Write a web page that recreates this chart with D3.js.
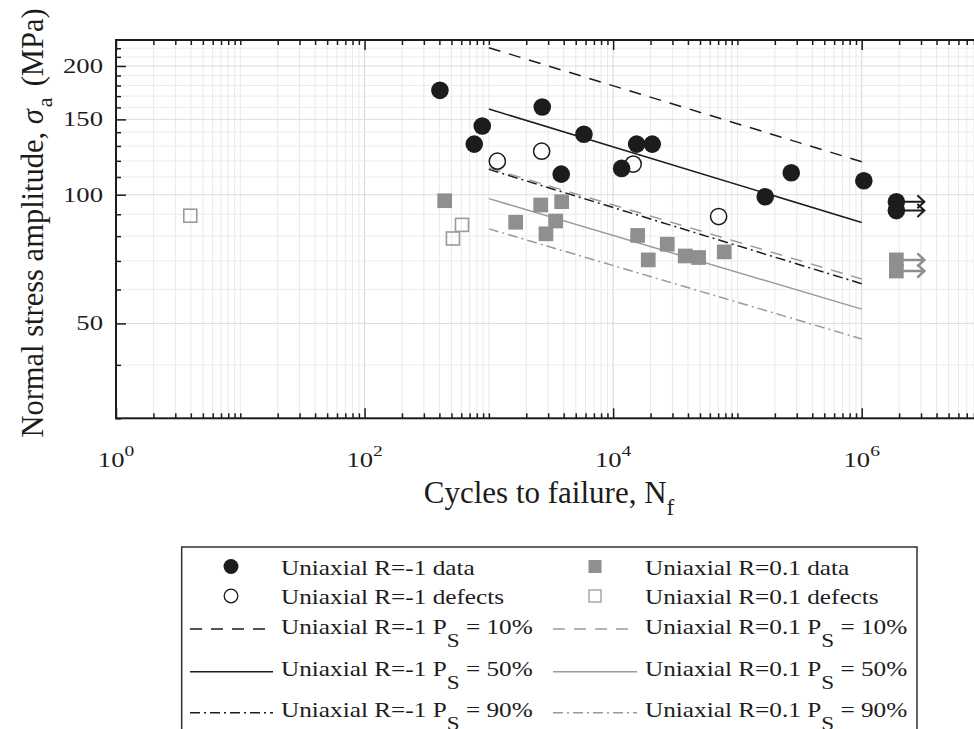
<!DOCTYPE html>
<html lang="en">
<head>
<meta charset="UTF-8">
<title>Uniaxial S-N data</title>
<script src="https://d3js.org/d3.v7.min.js"></script>
<style>
    body { margin: 0; background: #fff; }
    svg { display: block; font-family: "Liberation Serif", "Times New Roman", serif; }
</style>
</head>
<body>
<svg width="974" height="729"></svg>
<script>
// ---- data ----
// R = -1 failures
const r1DataN = [404, 885, 763, 2690, 3820, 5820, 11700, 15450, 20640, 167300, 271000, 1040000];
const r1DataS = [175.4, 144.8, 131.3, 160.4, 111.7, 138.5, 115.2, 131.3, 131.3, 98.9, 112.5, 107.8];
// R = -1 run-outs (arrows)
const r1RunoutN = [1900000, 1900000];
const r1RunoutS = [96.3, 91.8];
// R = -1 failures from defects
const r1DefectN = [1170, 2660, 14500, 70600];
const r1DefectS = [119.8, 126.4, 117.9, 88.9];

// R = 0.1 failures
const r01DataN = [441, 1643, 2611, 2880, 3445, 3852, 15740, 19160, 27250, 38020, 48730, 78300];
const r01DataS = [96.8, 86.2, 94.6, 81.0, 86.8, 96.3, 80.3, 70.4, 76.6, 71.9, 71.3, 73.5];
const r01RunoutN = [1900000, 1900000];
const r01RunoutS = [70.4, 66.3];
const r01DefectN = [3.96, 514, 608];
const r01DefectS = [89.3, 79.0, 85.0];

// fitted curves, ends at N = 1e3 and 1e6
const curveN = [1e3, 1e6];
const r1P10 = [220.6, 119.4];
const r1P50 = [158.6, 86.1];
const r1P90 = [114.6, 61.9];
const r01P10 = [115.5, 63.5];
const r01P50 = [97.9, 54.0];
const r01P90 = [83.2, 46.0];

// axes
const xLabelTicks = [1, 1e2, 1e4, 1e6];
const xLabelExp = ["0", "2", "4", "6"];
const yLabelTicks = [50, 100, 150, 200];
const yTicks = [30, 40, 50, 60, 70, 80, 90, 100, 110, 120, 130, 140, 150, 160, 170, 180, 190, 200, 210, 220];

const legendLabels = [
    ["Uniaxial R=-1 data", "Uniaxial R=0.1 data"],
    ["Uniaxial R=-1 defects", "Uniaxial R=0.1 defects"],
    ["Uniaxial R=-1 P", "Uniaxial R=0.1 P"],
    ["Uniaxial R=-1 P", "Uniaxial R=0.1 P"],
    ["Uniaxial R=-1 P", "Uniaxial R=0.1 P"]
];
const legendPs = [null, null, "10%", "50%", "90%"];

// ---- drawing ----
const pLeft = 116, pRight = 986, pTop = 40, pBottom = 418.3;
const black = "#1c1c1c", grey = "#8f8f8f", greyLine = "#9a9a9a";
const dashed = "12,9", dashDot = "10,4,2,4";

const svg = d3.select("svg");
const x = d3.scaleLog().domain([1, 1e7]).range([pLeft, pRight]);
const y = d3.scaleLog().domain([30, 230]).range([pBottom, pTop]);

svg.append("clipPath").attr("id", "plot")
    .append("rect").attr("x", pLeft).attr("y", pTop)
    .attr("width", pRight - pLeft).attr("height", pBottom - pTop);

const xTicks = x.ticks().filter(v => v < 1e7);
const isMajorX = v => xLabelTicks.includes(v);
const isMajorY = v => yLabelTicks.includes(v);

// grid
const grid = svg.append("g");
grid.selectAll(".gx").data(xTicks).join("line")
    .attr("x1", d => x(d)).attr("x2", d => x(d))
    .attr("y1", pTop).attr("y2", pBottom)
    .attr("stroke", d => isMajorX(d) ? "#d6d6d6" : "#e9e9e9").attr("stroke-width", 1);
grid.selectAll(".gy").data(yTicks).join("line")
    .attr("x1", pLeft).attr("x2", pRight)
    .attr("y1", d => y(d)).attr("y2", d => y(d))
    .attr("stroke", d => isMajorY(d) ? "#dedede" : "#ececec").attr("stroke-width", 1);

// axes ticks (inward), label-less
function tickAxis(axis, transform) {
    const g = svg.append("g").attr("transform", transform).call(axis);
    g.select(".domain").remove();
    g.selectAll(".tick line").attr("stroke", black).attr("stroke-width", 1.5);
    g.selectAll("text").remove();
}
tickAxis(d3.axisBottom(x).tickValues(xTicks.filter(v => !isMajorX(v))).tickSize(-5).tickFormat(""), `translate(0,${pBottom})`);
tickAxis(d3.axisBottom(x).tickValues(xLabelTicks).tickSize(-10).tickFormat(""), `translate(0,${pBottom})`);
tickAxis(d3.axisTop(x).tickValues(xTicks.filter(v => !isMajorX(v))).tickSize(-5).tickFormat(""), `translate(0,${pTop})`);
tickAxis(d3.axisTop(x).tickValues(xLabelTicks).tickSize(-10).tickFormat(""), `translate(0,${pTop})`);
tickAxis(d3.axisLeft(y).tickValues(yTicks.filter(v => !isMajorY(v))).tickSize(-5).tickFormat(""), `translate(${pLeft},0)`);
tickAxis(d3.axisLeft(y).tickValues(yLabelTicks).tickSize(-10).tickFormat(""), `translate(${pLeft},0)`);

// box
svg.append("rect").attr("x", pLeft).attr("y", pTop)
    .attr("width", pRight - pLeft).attr("height", pBottom - pTop)
    .attr("fill", "none").attr("stroke", black).attr("stroke-width", 2);

// tick labels
svg.append("g").selectAll("text").data(yLabelTicks).join("text")
    .attr("transform", d => `translate(103,${y(d) + 7}) scale(1.3,1)`)
    .attr("text-anchor", "end").attr("font-size", 20.5).attr("fill", black)
    .text(d => d);

const xl = svg.append("g").selectAll("text").data(xLabelTicks).join("text")
    .attr("transform", d => `translate(${x(d)},466.7) scale(1.3,1)`)
    .attr("text-anchor", "middle").attr("font-size", 20.5).attr("fill", black);
xl.append("tspan").text("10");
xl.append("tspan").attr("font-size", 15).attr("dy", -11).text((d, i) => xLabelExp[i]);

// axis titles
const xt = svg.append("text").attr("x", 549).attr("y", 503.3)
    .attr("text-anchor", "middle").attr("font-size", 31).attr("fill", black);
xt.append("tspan").text("Cycles to failure, N");
xt.append("tspan").attr("font-size", 23).attr("dy", 12).text("f");

const yt = svg.append("text").attr("transform", "translate(43,223) rotate(-90)")
    .attr("text-anchor", "middle").attr("font-size", 30.5).attr("fill", black);
yt.append("tspan").text("Normal stress amplitude, ");
yt.append("tspan").attr("font-style", "italic").text("σ");
yt.append("tspan").attr("font-size", 22).attr("dy", 9).attr("dx", 2).text("a");
yt.append("tspan").attr("dy", -9).attr("dx", 11).text("(MPa)");

// plot content
const plot = svg.append("g").attr("clip-path", "url(#plot)");
const line = d3.line().x(d => x(d[0])).y(d => y(d[1]));
const curves = [
    [r1P10, black, dashed], [r1P50, black, null], [r1P90, black, dashDot],
    [r01P10, greyLine, dashed], [r01P50, greyLine, null], [r01P90, greyLine, dashDot]
];
curves.forEach(([s, col, dash]) => {
    plot.append("path").datum(curveN.map((n, i) => [n, s[i]]))
        .attr("d", line).attr("fill", "none")
        .attr("stroke", col).attr("stroke-width", 1.5)
        .attr("stroke-dasharray", dash);
});

// run-out arrows
function arrows(ns, ss, col, w) {
    plot.append("g").selectAll("path").data(ns.map((n, i) => [n, ss[i]])).join("path")
        .attr("d", d => {
            const px = x(d[0]), py = y(d[1]);
            return `M${px},${py}H${px + 28}M${px + 21},${py - 6.5}L${px + 28},${py}L${px + 21},${py + 6.5}`;
        })
        .attr("fill", "none").attr("stroke", col).attr("stroke-width", w);
}
arrows(r1RunoutN, r1RunoutS, black, 2);
arrows(r01RunoutN, r01RunoutS, grey, 2.5);

function circles(ns, ss, filled) {
    plot.append("g").selectAll("circle").data(ns.map((n, i) => [n, ss[i]])).join("circle")
        .attr("cx", d => x(d[0])).attr("cy", d => y(d[1]))
        .attr("r", filled ? 8.8 : 8.1)
        .attr("fill", filled ? black : "none")
        .attr("stroke", filled ? "none" : black).attr("stroke-width", 1.5);
}
function squares(ns, ss, filled) {
    const s = filled ? 14.7 : 13;
    plot.append("g").selectAll("rect").data(ns.map((n, i) => [n, ss[i]])).join("rect")
        .attr("x", d => x(d[0]) - s / 2).attr("y", d => y(d[1]) - s / 2)
        .attr("width", s).attr("height", s)
        .attr("fill", filled ? grey : "none")
        .attr("stroke", filled ? "none" : greyLine).attr("stroke-width", 1.6);
}
circles(r1DataN, r1DataS, true);
circles(r1RunoutN, r1RunoutS, true);
circles(r1DefectN, r1DefectS, false);
squares(r01DataN, r01DataS, true);
squares(r01RunoutN, r01RunoutS, true);
squares(r01DefectN, r01DefectS, false);

// ---- legend ----
const leg = svg.append("g");
leg.append("rect").attr("x", 181.7).attr("y", 547).attr("width", 917 - 181.7).attr("height", 200)
    .attr("fill", "#fff").attr("stroke", "#333").attr("stroke-width", 1.5);

const rowBase = [575, 603.5, 634, 676, 717.3];
const rowMark = [566.5, 596, 629, 671.7, 712.7];
const colText = [281, 645];
const colMark = [231, 595];
const colLine = [[190, 273], [553, 637]];
const rowDash = [null, null, dashed, null, dashDot];

legendLabels.forEach((pair, r) => {
    pair.forEach((lab, c) => {
        const col = c === 0 ? black : greyLine;
        if (r === 0 && c === 0) leg.append("circle").attr("cx", colMark[c]).attr("cy", rowMark[r]).attr("r", 7.5).attr("fill", black);
        if (r === 1 && c === 0) leg.append("circle").attr("cx", colMark[c]).attr("cy", rowMark[r]).attr("r", 6.8)
            .attr("fill", "none").attr("stroke", black).attr("stroke-width", 1.3);
        if (r === 0 && c === 1) leg.append("rect").attr("x", colMark[c] - 6.5).attr("y", rowMark[r] - 6.5)
            .attr("width", 13).attr("height", 13).attr("fill", grey);
        if (r === 1 && c === 1) leg.append("rect").attr("x", colMark[c] - 6).attr("y", rowMark[r] - 6)
            .attr("width", 12).attr("height", 12).attr("fill", "none").attr("stroke", greyLine).attr("stroke-width", 1.3);
        if (r >= 2) leg.append("line").attr("x1", colLine[c][0]).attr("x2", colLine[c][1])
            .attr("y1", rowMark[r]).attr("y2", rowMark[r])
            .attr("stroke", col).attr("stroke-width", 1.5).attr("stroke-dasharray", rowDash[r]);

        const t = leg.append("text").attr("transform", `translate(${colText[c]},${rowBase[r]}) scale(1.22,1)`)
            .attr("font-size", 20.7).attr("fill", black);
        t.append("tspan").text(lab);
        if (legendPs[r]) {
            t.append("tspan").attr("font-size", 19).attr("dy", 13).text("S");
            t.append("tspan").attr("dy", -13).text(" = " + legendPs[r]);
        }
    });
});
</script>
</body>
</html>
